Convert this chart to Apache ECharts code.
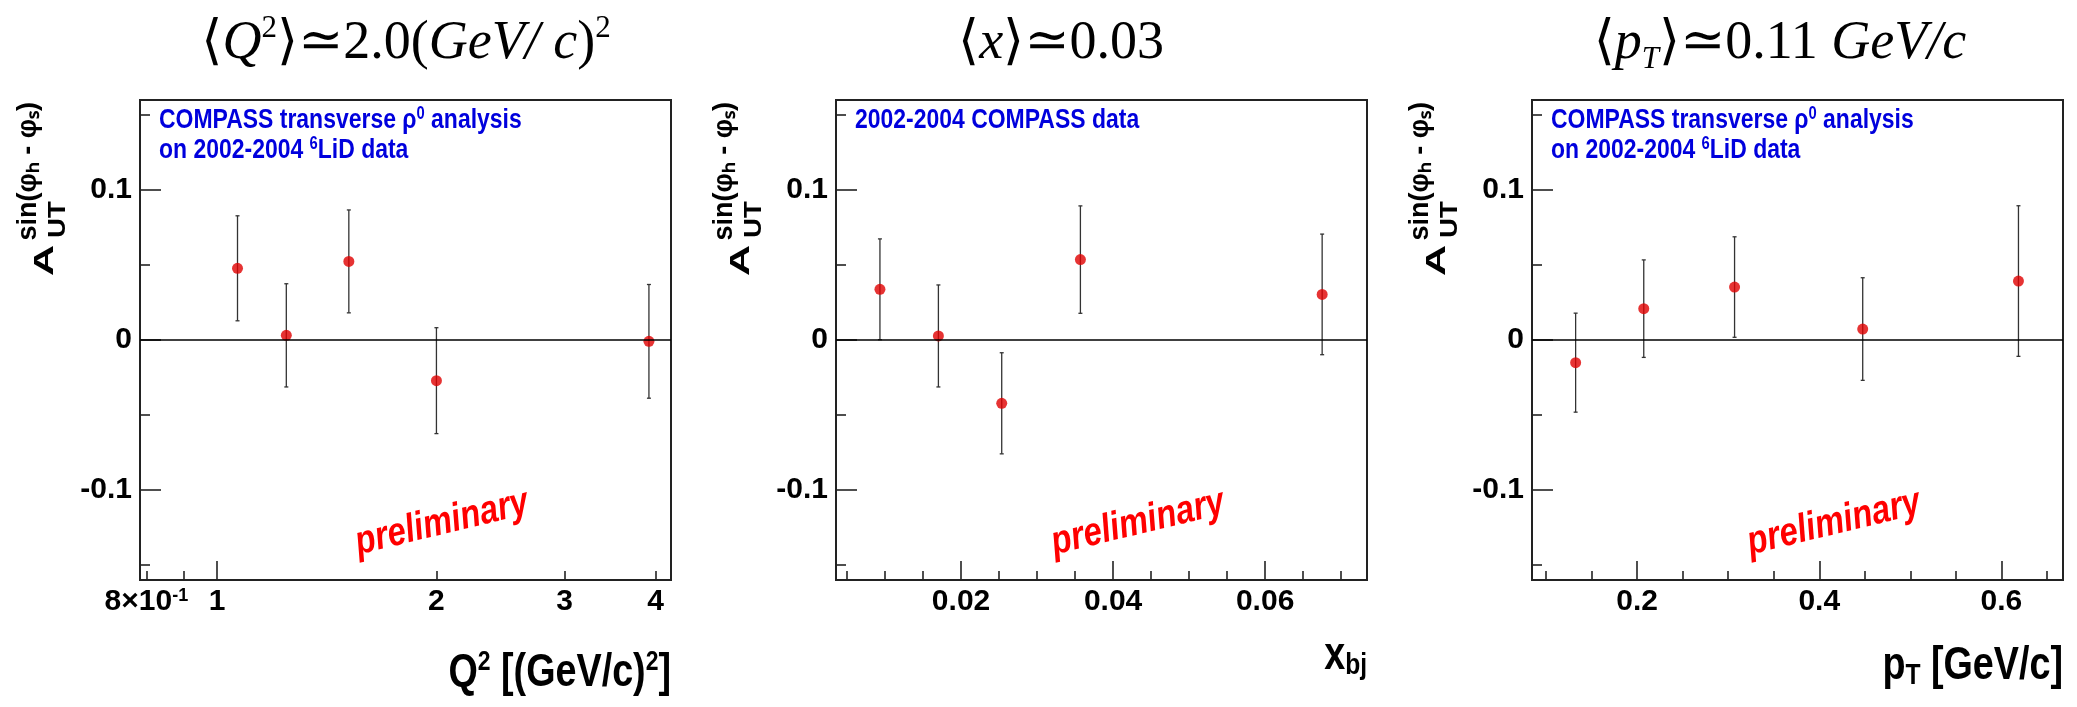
<!DOCTYPE html>
<html><head><meta charset="utf-8">
<script src="https://cdn.jsdelivr.net/npm/echarts@6/dist/echarts.min.js"></script>
<style>html,body{margin:0;padding:0;background:#fff}#c{width:2077px;height:707px}</style>
</head><body><div id="c"></div>
<script>
// ---------- DATA ----------
// Panel 1: A_UT vs Q^2 (log axis)
const q2X = [1.067, 1.245, 1.517, 2.001, 3.917];
const q2A = [0.0478, 0.0031, 0.0524, -0.0271, -0.0009];
const q2E = [0.0350, 0.0344, 0.0343, 0.0353, 0.0379];
// Panel 2: A_UT vs x_bj
const xbjX = [0.00933, 0.01702, 0.02535, 0.03570, 0.06750];
const xbjA = [0.0338, 0.0027, -0.0422, 0.0536, 0.0304];
const xbjE = [0.0336, 0.0340, 0.0337, 0.0358, 0.0402];
// Panel 3: A_UT vs p_T
const ptX = [0.1325, 0.2073, 0.3070, 0.4477, 0.6187];
const ptA = [-0.0151, 0.0209, 0.0353, 0.0073, 0.0393];
const ptE = [0.0330, 0.0325, 0.0335, 0.0342, 0.0502];

// tick labels / tick positions
const q2Labels = [0.8, 1, 2, 3, 4];
const q2Major = [1];
const q2Minor = [0.8, 0.9, 2, 3, 4];
const xbjLabels = [0.02, 0.04, 0.06];
const xbjMinor = [0.005, 0.01, 0.015, 0.025, 0.03, 0.035, 0.045, 0.05, 0.055, 0.065, 0.07];
const ptLabels = [0.2, 0.4, 0.6];
const ptMinor = [0.1, 0.15, 0.25, 0.3, 0.35, 0.45, 0.5, 0.55, 0.65];
const yLabels = [-0.1, 0, 0.1];
const yMinor = [-0.15, -0.05, 0.05, 0.15];

// ---------- STYLE ----------
const SANS = "'Liberation Sans',Arial,Helvetica,sans-serif";
const SERIF = "'Liberation Serif','DejaVu Serif',serif";
const FRAME = '#222';
const NARROW = 0.82;
const GRID_TOP = 100, GRID_H = 480, GRID_W = 531;

const panels = [
  {left: 140, type: 'log', min: 0.784, max: 4.2, labels: q2Labels, major: q2Major, minor: q2Minor,
   fmt: v => (Math.abs(v - 0.8) < 1e-6 ? '8×10{sup|-1}' : String(Math.round(v))),
   X: q2X, A: q2A, E: q2E},
  {left: 836, type: 'value', min: 0.00355, max: 0.0734, labels: xbjLabels, major: xbjLabels, minor: xbjMinor,
   fmt: v => v.toFixed(2), X: xbjX, A: xbjA, E: xbjE},
  {left: 1532, type: 'value', min: 0.0846, max: 0.6676, labels: ptLabels, major: ptLabels, minor: ptMinor,
   fmt: v => v.toFixed(1), X: ptX, A: ptA, E: ptE}
];

const labelStyle = {fontFamily: SANS, fontWeight: 'bold', fontSize: 30, color: '#000'};
const tickLine = {color: FRAME, width: 1.6};

const grids = [], xAxes = [], yAxes = [], series = [];
panels.forEach((p, i) => {
  grids.push({left: p.left, top: GRID_TOP, width: GRID_W, height: GRID_H, show: true,
              borderColor: FRAME, borderWidth: 2, backgroundColor: 'transparent', containLabel: false});
  const xBase = {gridIndex: i, type: p.type, min: p.min, max: p.max, position: 'bottom',
                 axisLine: {show: false, onZero: false}, splitLine: {show: false}, minorTick: {show: false}};
  if (p.type === 'log') xBase.logBase = 10;
  xAxes.push(Object.assign({}, xBase, {
    axisTick: {show: true, inside: true, length: 19, customValues: p.major, lineStyle: tickLine},
    axisLabel: Object.assign({show: true, margin: 7, customValues: p.labels, formatter: p.fmt,
      rich: {sup: {fontFamily: SANS, fontWeight: 'bold', fontSize: 18, verticalAlign: 'top', lineHeight: 12, color: '#000'}}},
      labelStyle)
  }));
  xAxes.push(Object.assign({}, xBase, {
    axisTick: {show: true, inside: true, length: 9, customValues: p.minor, lineStyle: tickLine},
    axisLabel: {show: false}
  }));
  const yBase = {gridIndex: i, type: 'value', min: -0.16, max: 0.16, position: 'left',
                 axisLine: {show: false, onZero: false}, splitLine: {show: false}, minorTick: {show: false}};
  yAxes.push(Object.assign({}, yBase, {
    axisTick: {show: true, inside: true, length: 21, customValues: yLabels, lineStyle: tickLine},
    axisLabel: Object.assign({show: true, margin: 8, customValues: yLabels,
      formatter: v => (Math.abs(v) < 1e-9 ? '0' : v.toFixed(1))}, labelStyle)
  }));
  yAxes.push(Object.assign({}, yBase, {
    axisTick: {show: true, inside: true, length: 10, customValues: yMinor, lineStyle: tickLine},
    axisLabel: {show: false}
  }));

  series.push({
    type: 'custom', xAxisIndex: 2 * i, yAxisIndex: 2 * i, z: 2, silent: true,
    encode: {x: 0, y: [1, 2]},
    data: p.X.map((x, k) => [x, p.A[k] - p.E[k], p.A[k] + p.E[k]]),
    renderItem: (params, api) => {
      const lo = api.coord([api.value(0), api.value(1)]);
      const hi = api.coord([api.value(0), api.value(2)]);
      const st = {stroke: '#333', lineWidth: 1.3};
      return {type: 'group', children: [
        {type: 'line', shape: {x1: lo[0], y1: lo[1], x2: hi[0], y2: hi[1]}, style: st},
        {type: 'line', shape: {x1: lo[0] - 2, y1: lo[1], x2: lo[0] + 2, y2: lo[1]}, style: st},
        {type: 'line', shape: {x1: hi[0] - 2, y1: hi[1], x2: hi[0] + 2, y2: hi[1]}, style: st}
      ]};
    }
  });
  series.push({
    type: 'scatter', xAxisIndex: 2 * i, yAxisIndex: 2 * i, z: 3,
    data: p.X.map((x, k) => [x, p.A[k]]),
    symbol: 'circle', symbolSize: 11,
    itemStyle: {color: '#e00000'},
    markLine: {silent: true, symbol: ['none', 'none'], label: {show: false},
      lineStyle: {color: '#000', width: 1.5, type: 'solid'}, data: [{yAxis: 0}]}
  });
});

// ---------- TEXT (titles, annotations) ----------
const titleRich = {
  n: {fontFamily: SERIF, fontSize: 54, lineHeight: 62, fill: '#000'},
  i: {fontFamily: SERIF, fontSize: 54, lineHeight: 62, fontStyle: 'italic', fill: '#000'},
  sup: {fontFamily: SERIF, fontSize: 31, lineHeight: 18, verticalAlign: 'top', fill: '#000'},
  isub: {fontFamily: SERIF, fontSize: 31, lineHeight: 18, fontStyle: 'italic', verticalAlign: 'bottom', fill: '#000'}
};
const titles = [
  {x: 406, text: '{n|⟨}{i|Q}{sup|2}{n|⟩≃2.0(}{i|GeV/ c}{n|)}{sup|2}'},
  {x: 1061, text: '{n|⟨}{i|x}{n|⟩≃0.03}'},
  {x: 1780, text: '{n|⟨}{i|p}{isub|T}{n|⟩≃0.11 }{i|GeV/c}'}
];
const legendRich = {
  b: {fontFamily: SANS, fontWeight: 'bold', fontSize: 28, lineHeight: 30, fill: '#0000dd'},
  s: {fontFamily: SANS, fontWeight: 'bold', fontSize: 18, lineHeight: 14, verticalAlign: 'top', fill: '#0000dd'}
};
const legends = [
  ['{b|COMPASS transverse ρ}{s|0}{b| analysis}', '{b|on 2002-2004 }{s|6}{b|LiD data}'],
  ['{b|2002-2004 COMPASS data}'],
  ['{b|COMPASS transverse ρ}{s|0}{b| analysis}', '{b|on 2002-2004 }{s|6}{b|LiD data}']
];
const xTitleRich = {
  b: {fontFamily: SANS, fontWeight: 'bold', fontSize: 46, lineHeight: 50, fill: '#000'},
  sup: {fontFamily: SANS, fontWeight: 'bold', fontSize: 28, lineHeight: 18, verticalAlign: 'top', fill: '#000'},
  sub: {fontFamily: SANS, fontWeight: 'bold', fontSize: 30, lineHeight: 20, verticalAlign: 'bottom', fill: '#000'}
};
const xTitles = [
  {y: 673, text: '{b|Q}{sup|2}{b| [(GeV/c)}{sup|2}{b|]}'},
  {y: 656, text: '{b|x}{sub|bj}'},
  {y: 666, text: '{b|p}{sub|T}{b| [GeV/c]}'}
];

const graphics = [];
panels.forEach((p, i) => {
  const L = p.left, R = p.left + GRID_W;
  graphics.push({type: 'text', x: titles[i].x, y: 44, silent: true,
    style: {text: titles[i].text, rich: titleRich, align: 'center', verticalAlign: 'middle', fill: '#000'}});
  legends[i].forEach((t, k) => graphics.push({type: 'text', x: L + 19, y: 120 + 30 * k, scaleX: NARROW, silent: true,
    style: {text: t, rich: legendRich, align: 'left', verticalAlign: 'middle', fill: '#0000dd'}}));
  graphics.push({type: 'text', x: R, y: xTitles[i].y, scaleX: NARROW, silent: true,
    style: {text: xTitles[i].text, rich: xTitleRich, align: 'right', verticalAlign: 'middle', fill: '#000'}});
  // y-axis title  A_UT^{sin(phi_h - phi_s)}  (sub- and superscript stacked)
  graphics.push({type: 'text', x: L - 94, y: 276, rotation: Math.PI / 2, scaleX: 1.6, silent: true,
    style: {text: 'A', font: 'bold 27px ' + SANS, align: 'left', verticalAlign: 'middle', fill: '#000'}});
  graphics.push({type: 'text', x: L - 82, y: 238, rotation: Math.PI / 2, scaleX: 1.15, silent: true,
    style: {text: 'UT', font: 'bold 24px ' + SANS, align: 'left', verticalAlign: 'middle', fill: '#000'}});
  graphics.push({type: 'text', x: L - 111, y: 102, rotation: Math.PI / 2, silent: true,
    style: {text: 'sin(φₕ - φₛ)', font: 'bold 27px ' + SANS, align: 'right', verticalAlign: 'middle', fill: '#000'}});
  // preliminary
  graphics.push({type: 'text', x: L + 302, y: 523, rotation: 0.236, scaleX: NARROW, silent: true,
    style: {text: 'preliminary', font: 'italic bold 40px ' + SANS, align: 'center', verticalAlign: 'middle', fill: '#ff0000'}});
});

const chart = echarts.init(document.getElementById('c'), null, {renderer: 'canvas', width: 2077, height: 707});
chart.setOption({
  animation: false,
  backgroundColor: '#fff',
  grid: grids,
  xAxis: xAxes,
  yAxis: yAxes,
  series: series,
  graphic: {elements: graphics}
});
</script></body></html>
